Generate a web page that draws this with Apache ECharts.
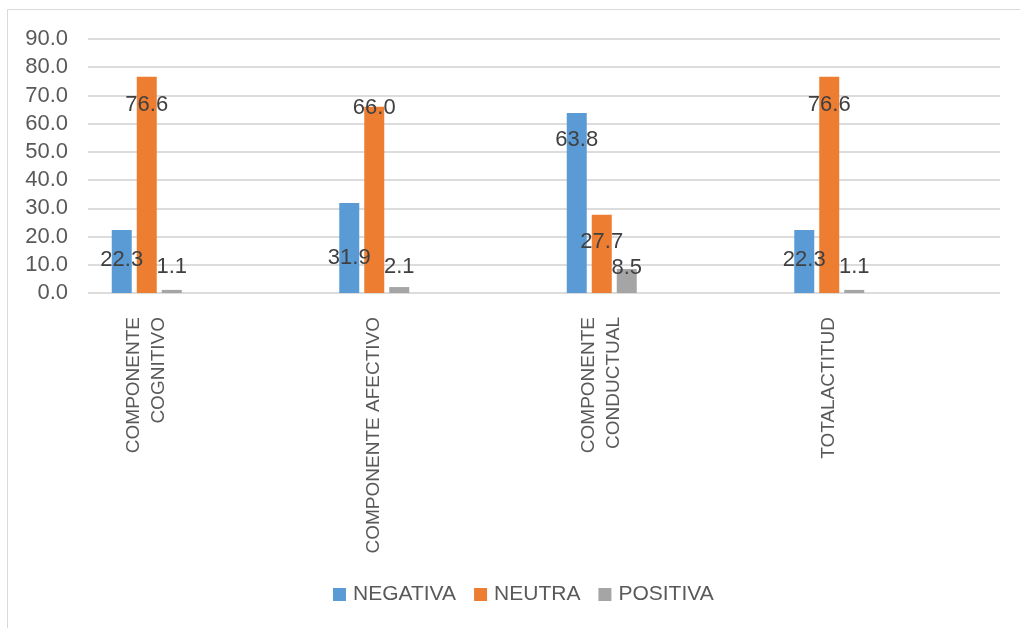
<!DOCTYPE html>
<html>
<head>
<meta charset="utf-8">
<script src="https://cdn.jsdelivr.net/npm/echarts@6/dist/echarts.min.js"></script>
<style>
  html, body { margin: 0; padding: 0; background: #fff; }
  #chart { width: 1020px; height: 628px; }
</style>
</head>
<body>
<div id="chart"></div>
<script>
// categorías y valores (%)
const categories = ['COMPONENTE\nCOGNITIVO', 'COMPONENTE AFECTIVO', 'COMPONENTE\nCONDUCTUAL', 'TOTALACTITUD'];
const negativa = [22.3, 31.9, 63.8, 22.3];
const neutra = [76.6, 66.0, 27.7, 76.6];
const positiva = [1.1, 2.1, 8.5, 1.1];
const yTicks = [0, 10, 20, 30, 40, 50, 60, 70, 80, 90];

const FONT = "'Liberation Sans', Arial, sans-serif";

// desplazamiento manual de las etiquetas (px desde el borde superior de la barra), como en el original
const labelShift = {
  NEGATIVA: [18, 43, 15, 18],
  NEUTRA: [16, -11, 15, 16],
  POSITIVA: [-35, -32, -13, -35]
};

const chart = echarts.init(document.getElementById('chart'));

const makeSeries = (name, values, color) => ({
  name,
  type: 'bar',
  xAxisIndex: 1,
  yAxisIndex: 1,
  barWidth: 20,
  barGap: '25%',
  itemStyle: { color },
  data: values.map((v, i) => ({
    value: v,
    label: { offset: [0, labelShift[name][i]] }
  })),
  label: {
    show: true,
    position: 'insideTop',
    distance: 0,
    color: '#404040',
    fontFamily: FONT,
    fontSize: 22,
    lineHeight: 24,
    textBorderWidth: 0,
    formatter: p => p.value.toFixed(1)
  }
});

chart.setOption({
  animation: false,
  textStyle: { fontFamily: FONT },
  graphic: [{
    type: 'polyline',
    shape: { points: [[7.5, 628], [7.5, 9.5], [1020, 9.5]] },
    style: { stroke: '#d9d9d9', lineWidth: 1, fill: null },
    silent: true
  }],
  grid: [
    { left: 88, width: 912, top: 39, height: 254 },
    { left: 33, width: 910, top: 39, height: 254 }
  ],
  legend: {
    data: ['NEGATIVA', 'NEUTRA', 'POSITIVA'],
    left: 333,
    top: 584,
    padding: 0,
    icon: 'rect',
    itemWidth: 13,
    itemHeight: 13,
    itemGap: 18,
    textStyle: { color: '#595959', fontSize: 21, fontFamily: FONT, padding: [0, 0, 0, 2] }
  },
  xAxis: [
    { gridIndex: 0, type: 'value', show: false },
    {
      gridIndex: 1,
      type: 'category',
      data: categories,
      axisLine: { show: false },
      axisTick: { show: false },
      axisLabel: {
        interval: 0,
        rotate: 90,
        margin: 24,
        color: '#595959',
        fontSize: 19,
        lineHeight: 25,
        fontFamily: FONT
      }
    }
  ],
  yAxis: [
    {
      gridIndex: 0,
      type: 'value',
      min: yTicks[0],
      max: yTicks[yTicks.length - 1],
      interval: yTicks[1] - yTicks[0],
      axisLine: { show: false },
      axisTick: { show: false },
      axisLabel: {
        margin: 20,
        color: '#595959',
        fontSize: 22,
        fontFamily: FONT,
        formatter: v => v.toFixed(1)
      },
      splitLine: { lineStyle: { color: '#dcdcdc', width: 2 } }
    },
    { gridIndex: 1, type: 'value', min: 0, max: 90, show: false }
  ],
  series: [
    makeSeries('NEGATIVA', negativa, '#5b9bd5'),
    makeSeries('NEUTRA', neutra, '#ed7d31'),
    makeSeries('POSITIVA', positiva, '#a5a5a5')
  ]
});
</script>
</body>
</html>
